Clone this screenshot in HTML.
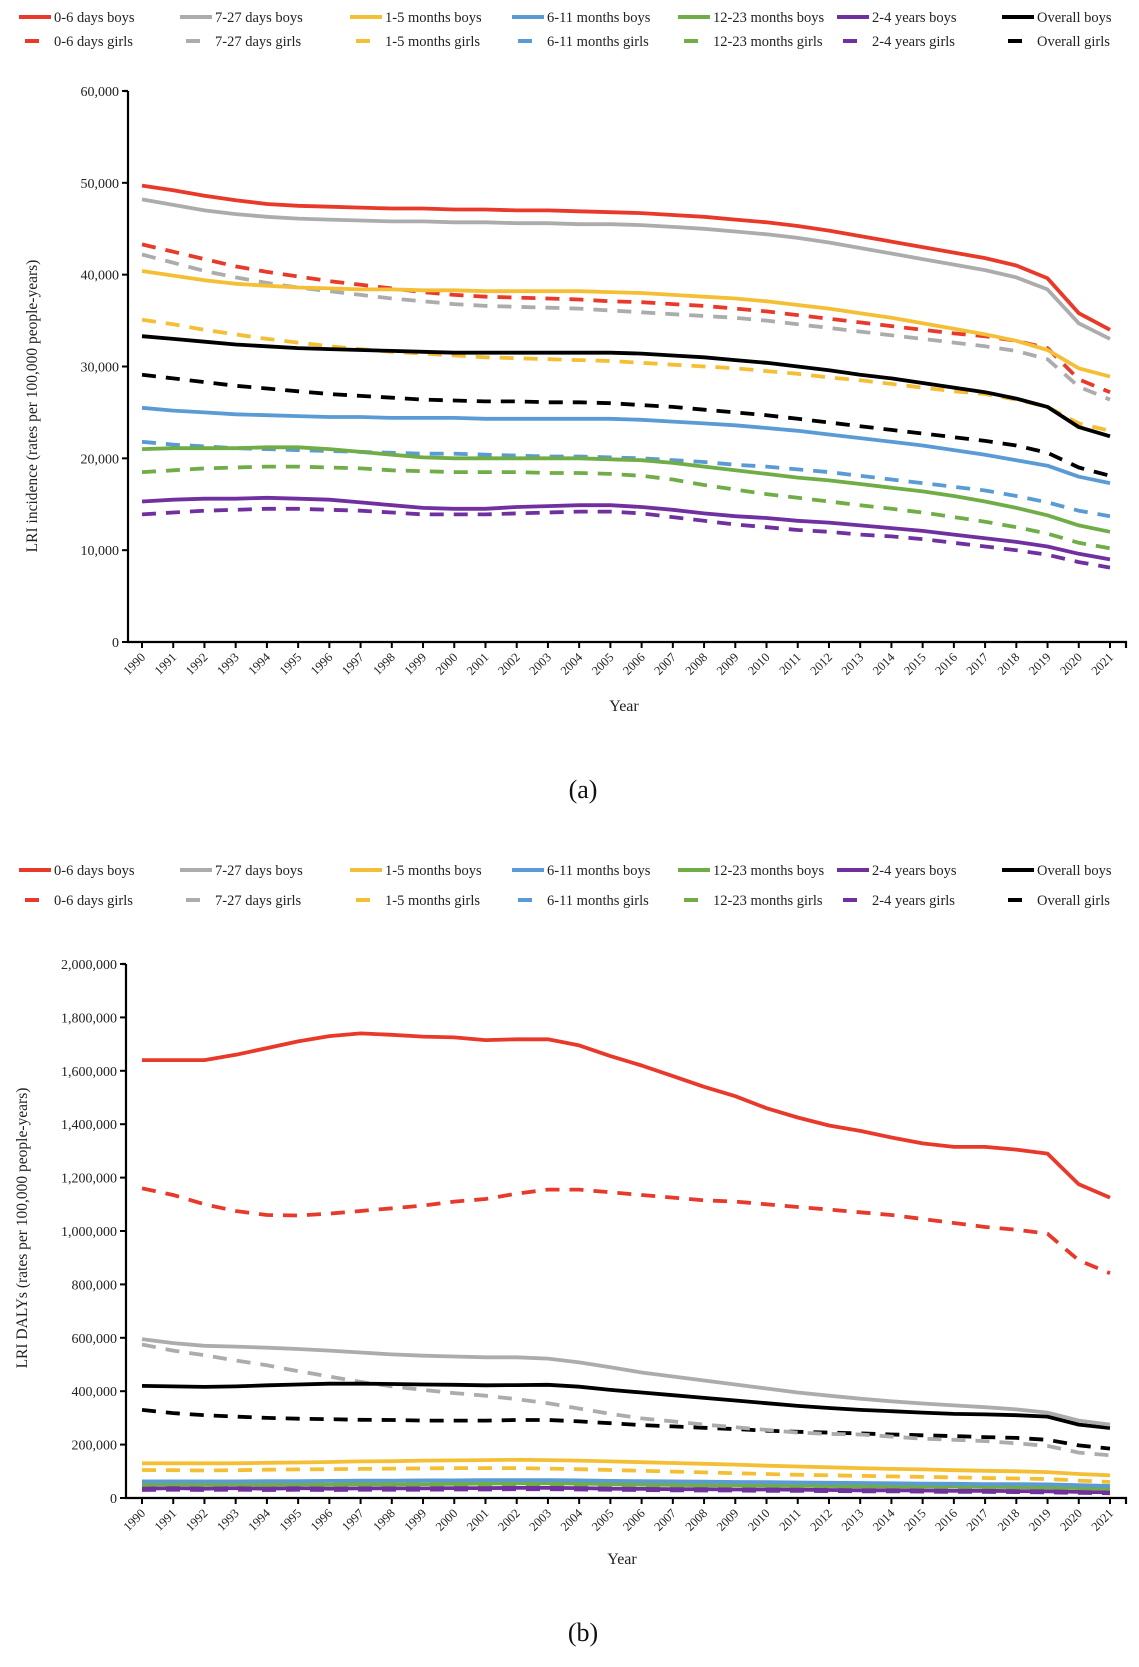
<!DOCTYPE html>
<html><head><meta charset="utf-8">
<style>
html,body{margin:0;padding:0;background:#fff;}
svg{display:block;font-family:"Liberation Serif",serif;}
</style></head>
<body>
<svg id="fig" width="1139" height="1667" viewBox="0 0 1139 1667" xmlns="http://www.w3.org/2000/svg"></svg>
<script>
const years = [1990,1991,1992,1993,1994,1995,1996,1997,1998,1999,2000,2001,2002,2003,2004,2005,2006,2007,2008,2009,2010,2011,2012,2013,2014,2015,2016,2017,2018,2019,2020,2021];
const seriesNames = ["0-6 days boys","7-27 days boys","1-5 months boys","6-11 months boys","12-23 months boys","2-4 years boys","Overall boys","0-6 days girls","7-27 days girls","1-5 months girls","6-11 months girls","12-23 months girls","2-4 years girls","Overall girls"];
const seriesColors = ["#e8392a","#acacac","#f5bf35","#5b9bd5","#70ad47","#7030a0","#000000","#e8392a","#acacac","#f5bf35","#5b9bd5","#70ad47","#7030a0","#000000"];
const yTicksA = [0,10000,20000,30000,40000,50000,60000];
const yTicksB = [0,200000,400000,600000,800000,1000000,1200000,1400000,1600000,1800000,2000000];

// Chart (a) incidence, thousands
const a_d06b = [49.7,49.2,48.6,48.1,47.7,47.5,47.4,47.3,47.2,47.2,47.1,47.1,47.0,47.0,46.9,46.8,46.7,46.5,46.3,46.0,45.7,45.3,44.8,44.2,43.6,43.0,42.4,41.8,41.0,39.6,35.8,34.0];
const a_d727b = [48.2,47.6,47.0,46.6,46.3,46.1,46.0,45.9,45.8,45.8,45.7,45.7,45.6,45.6,45.5,45.5,45.4,45.2,45.0,44.7,44.4,44.0,43.5,42.9,42.3,41.7,41.1,40.5,39.7,38.4,34.7,33.0];
const a_m15b = [40.4,39.9,39.4,39.0,38.8,38.6,38.5,38.4,38.4,38.3,38.3,38.2,38.2,38.2,38.2,38.1,38.0,37.8,37.6,37.4,37.1,36.7,36.3,35.8,35.3,34.7,34.1,33.5,32.8,31.8,29.8,28.9];
const a_m611b = [25.5,25.2,25.0,24.8,24.7,24.6,24.5,24.5,24.4,24.4,24.4,24.3,24.3,24.3,24.3,24.3,24.2,24.0,23.8,23.6,23.3,23.0,22.6,22.2,21.8,21.4,20.9,20.4,19.8,19.2,18.0,17.3];
const a_m1223b = [21.0,21.1,21.1,21.1,21.2,21.2,21.0,20.7,20.4,20.1,20.0,20.0,20.0,20.0,20.0,19.9,19.8,19.5,19.1,18.7,18.3,17.9,17.6,17.2,16.8,16.4,15.9,15.3,14.6,13.8,12.7,12.0];
const a_y24b = [15.3,15.5,15.6,15.6,15.7,15.6,15.5,15.2,14.9,14.6,14.5,14.5,14.7,14.8,14.9,14.9,14.7,14.4,14.0,13.7,13.5,13.2,13.0,12.7,12.4,12.1,11.7,11.3,10.9,10.4,9.6,9.0];
const a_allb = [33.3,33.0,32.7,32.4,32.2,32.0,31.9,31.8,31.7,31.6,31.5,31.5,31.5,31.5,31.5,31.5,31.4,31.2,31.0,30.7,30.4,30.0,29.6,29.1,28.7,28.2,27.7,27.2,26.5,25.6,23.4,22.4];
const a_d06g = [43.3,42.5,41.7,40.9,40.3,39.8,39.3,38.9,38.5,38.1,37.8,37.6,37.5,37.4,37.3,37.1,37.0,36.8,36.6,36.3,36.0,35.6,35.2,34.8,34.4,34.0,33.6,33.3,32.8,32.0,28.6,27.2];
const a_d727g = [42.2,41.3,40.4,39.7,39.1,38.6,38.2,37.8,37.4,37.1,36.8,36.6,36.5,36.4,36.3,36.1,35.9,35.7,35.5,35.3,35.0,34.6,34.2,33.8,33.4,33.0,32.6,32.2,31.7,30.8,27.8,26.4];
const a_m15g = [35.1,34.6,34.0,33.5,33.0,32.6,32.2,31.9,31.6,31.4,31.2,31.0,30.9,30.8,30.7,30.6,30.4,30.2,30.0,29.8,29.5,29.2,28.8,28.5,28.1,27.7,27.3,27.0,26.4,25.6,23.8,23.0];
const a_m611g = [21.8,21.5,21.3,21.1,21.0,20.9,20.8,20.7,20.6,20.5,20.5,20.4,20.3,20.2,20.2,20.1,20.0,19.8,19.6,19.3,19.1,18.8,18.5,18.1,17.7,17.3,16.9,16.5,15.9,15.2,14.3,13.7];
const a_m1223g = [18.5,18.7,18.9,19.0,19.1,19.1,19.0,18.9,18.7,18.6,18.5,18.5,18.5,18.4,18.4,18.3,18.1,17.7,17.1,16.6,16.1,15.7,15.3,14.9,14.5,14.1,13.6,13.1,12.5,11.8,10.8,10.2];
const a_y24g = [13.9,14.1,14.3,14.4,14.5,14.5,14.4,14.3,14.1,13.9,13.9,13.9,14.0,14.1,14.2,14.2,14.0,13.6,13.2,12.8,12.5,12.2,12.0,11.7,11.5,11.2,10.8,10.4,10.0,9.5,8.7,8.1];
const a_allg = [29.1,28.7,28.3,27.9,27.6,27.3,27.0,26.8,26.6,26.4,26.3,26.2,26.2,26.1,26.1,26.0,25.8,25.6,25.3,25.0,24.7,24.3,23.9,23.5,23.1,22.7,22.3,21.9,21.4,20.6,19.0,18.1];

// Chart (b) DALYs, thousands
const b_d06b = [1640,1640,1640,1660,1685,1710,1730,1740,1735,1728,1725,1715,1718,1718,1695,1655,1620,1580,1540,1505,1460,1425,1395,1375,1350,1328,1315,1315,1305,1290,1175,1125];
const b_d727b = [595,580,570,567,563,558,552,545,538,533,530,527,527,522,508,490,470,455,440,425,410,395,383,372,362,354,347,340,332,320,290,275];
const b_m15b = [130,130,130,130,132,133,135,137,138,140,141,142,143,142,140,137,134,131,128,125,121,118,115,112,109,107,104,102,100,97,90,85];
const b_m611b = [62,62,62,62,63,63,64,65,65,66,66,67,67,67,66,64,63,62,61,60,59,58,57,56,55,54,53,52,52,51,48,45];
const b_m1223b = [50,52,50,52,50,52,50,52,51,52,53,54,55,55,54,52,50,49,48,48,47,46,45,44,44,43,43,42,41,40,37,35];
const b_y24b = [35,37,35,37,35,37,35,36,36,36,37,37,38,38,37,35,34,33,33,32,32,31,30,29,29,28,27,27,26,25,23,21];
const b_allb = [420,418,416,418,422,425,428,428,427,425,424,422,423,424,417,405,395,385,375,365,355,345,337,330,325,320,315,313,310,305,275,262];
const b_d06g = [1160,1135,1100,1075,1060,1058,1065,1075,1085,1095,1110,1120,1140,1155,1155,1145,1135,1125,1115,1110,1100,1090,1080,1070,1060,1045,1030,1015,1005,990,890,842];
const b_d727g = [575,552,535,515,497,475,455,435,418,405,393,383,370,355,335,315,298,287,275,265,255,245,240,238,230,222,218,213,205,195,170,160];
const b_m15g = [105,104,103,104,106,107,108,109,110,111,112,112,112,110,108,105,102,99,96,93,90,87,85,83,81,79,77,75,73,71,65,60];
const b_m611g = [55,55,55,55,56,57,57,58,58,59,59,60,60,59,58,57,56,55,54,53,52,51,50,49,48,47,47,46,45,44,41,38];
const b_m1223g = [45,46,45,46,45,46,45,46,46,47,48,48,49,49,48,46,45,44,43,42,42,41,40,39,38,37,37,36,35,34,31,29];
const b_y24g = [30,31,30,31,30,31,30,31,31,31,32,32,33,33,32,31,30,29,28,28,27,27,26,25,25,24,23,23,22,21,19,18];
const b_allg = [330,318,310,305,300,297,295,293,292,290,290,290,292,292,287,280,273,268,263,258,252,248,245,242,238,235,232,228,225,218,197,185];

const NS = "http://www.w3.org/2000/svg";
const svg = document.getElementById("fig");
function mk(tag, attrs, parent) {
  const e = document.createElementNS(NS, tag);
  for (const k in attrs) e.setAttribute(k, attrs[k]);
  (parent || svg).appendChild(e);
  return e;
}
function fmt(v){return v.toLocaleString("en-US");}

function drawChart(cfg) {
  const g = mk("g", {});
  
  
  const xs = y => cfg.x0 + (y - years[0]) * (cfg.x1 - cfg.x0) / (years[years.length-1] - years[0]);
  const ys = v => cfg.yBottom - v / cfg.yMax * (cfg.yBottom - cfg.yTop);

  const legCols = [19,180,350,512,678,837,1002];
  for (let i = 0; i < 14; i++) {
    const col = i % 7, row = Math.floor(i / 7);
    const ly = cfg.legY + row * cfg.legGap;
    const lg = mk("g", {}, g);
    
    
    const lx = legCols[col];
    if (row === 0) mk("line", {x1: lx, y1: ly, x2: lx + 32, y2: ly, stroke: seriesColors[i], "stroke-width": 4}, lg);
    else mk("line", {x1: lx + 6, y1: ly, x2: lx + 20, y2: ly, stroke: seriesColors[i], "stroke-width": 4}, lg);
    const t = mk("text", {x: lx + 35, y: ly + 5, "font-size": 14.5, fill: "#222"}, lg);
    t.textContent = seriesNames[i];
  }

  const ax = mk("path", {d: `M${cfg.ax},${cfg.yTop} H${cfg.ax-4} M${cfg.ax},${cfg.yTop} V${cfg.yBottom} H${cfg.axEnd} v6`, stroke: "#000", "stroke-width": 2.2, fill: "none"}, g);
  
  
  cfg.yTicks.forEach(v => {
    const y = ys(v);
    mk("line", {x1: cfg.ax - 6, y1: y, x2: cfg.ax, y2: y, stroke: "#000", "stroke-width": 2}, g);
    const t = mk("text", {x: cfg.ax - 9, y: y + 5, "font-size": 14, "text-anchor": "end", fill: "#222"}, g);
    
    
    t.textContent = fmt(v);
  });
  years.forEach(yr => {
    const x = xs(yr);
    mk("line", {x1: x, y1: cfg.yBottom, x2: x, y2: cfg.yBottom + 6, stroke: "#000", "stroke-width": 2}, g);
    const t = mk("text", {x: x + 4, y: cfg.yBottom + 16, "font-size": 12.5, "text-anchor": "end", fill: "#222", transform: `rotate(-45 ${x + 4} ${cfg.yBottom + 16})`}, g);
    
    
    t.textContent = yr;
  });
  const xt = mk("text", {x: cfg.xTitleX, y: cfg.xTitleY, "font-size": 16, "text-anchor": "middle", fill: "#222"}, g);
  
  
  xt.textContent = "Year";
  const yt = mk("text", {x: cfg.yTitleX, y: cfg.yTitleY, "font-size": 15.5, "text-anchor": "middle", fill: "#222", transform: `rotate(-90 ${cfg.yTitleX} ${cfg.yTitleY})`}, g);
  
  
  yt.textContent = cfg.yTitle;
  const pl = mk("text", {x: 583, y: cfg.panelY, "font-size": 26, "text-anchor": "middle", fill: "#111"}, g);
  
  
  pl.textContent = cfg.panel;

  const order = [13,12,11,10,9,8,7,6,5,4,3,2,1,0];
  order.forEach(i => {
    const data = cfg.series[i];
    const pts = data.map((v, k) => xs(years[k]).toFixed(1) + "," + ys(v * 1000).toFixed(1)).join(" ");
    const p = mk("polyline", {points: pts, fill: "none", stroke: seriesColors[i], "stroke-width": 3.8, "stroke-linejoin": "round", "stroke-linecap": "butt"}, g);
    if (i >= 7) p.setAttribute("stroke-dasharray", "14 10");
    
    
  });
}

drawChart({name: "chart-a-incidence", x0: 142, x1: 1110, ax: 128, axEnd: 1126, yTop: 91, yBottom: 642, yMax: 60000,
  yTicks: yTicksA, legY: 17, legGap: 24, xTitleX: 624, xTitleY: 711, yTitleX: 37, yTitleY: 406, panelY: 798, panel: "(a)",
  yTitle: "LRI incidence (rates per 100,000 people-years)",
  series: [a_d06b,a_d727b,a_m15b,a_m611b,a_m1223b,a_y24b,a_allb,a_d06g,a_d727g,a_m15g,a_m611g,a_m1223g,a_y24g,a_allg]});
drawChart({name: "chart-b-dalys", x0: 142, x1: 1110, ax: 126, axEnd: 1126, yTop: 964, yBottom: 1498, yMax: 2000000,
  yTicks: yTicksB, legY: 870, legGap: 30, xTitleX: 622, xTitleY: 1564, yTitleX: 27, yTitleY: 1228, panelY: 1641, panel: "(b)",
  yTitle: "LRI DALYs (rates per 100,000 people-years)",
  series: [b_d06b,b_d727b,b_m15b,b_m611b,b_m1223b,b_y24b,b_allb,b_d06g,b_d727g,b_m15g,b_m611g,b_m1223g,b_y24g,b_allg]});
</script>
</body></html>
